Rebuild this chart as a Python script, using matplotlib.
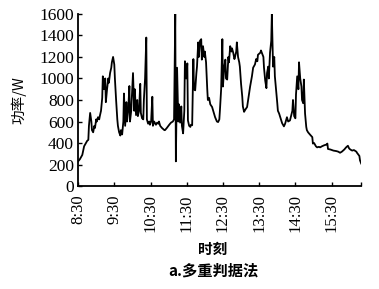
import matplotlib
matplotlib.use("Agg")
import matplotlib.pyplot as plt

# minutes after 8:30
minutes = [0, 3, 7, 10, 13, 15, 17, 18, 20, 22, 23, 25, 27, 28, 30, 31, 33, 35, 36, 38,
           40, 41, 43, 45, 46, 48, 50, 51, 53, 55, 56, 58, 60, 61, 63, 65, 66, 68, 70, 71,
           73, 75, 76, 78, 80, 81, 83, 85, 86, 88, 89, 91, 93, 94, 96, 98, 99, 101, 103, 104,
           106, 108, 109, 111, 113, 114, 116, 118, 119, 121, 123, 124, 126, 128, 129, 131, 133, 134, 136, 139,
           143, 144, 147, 151, 154, 157, 159, 161, 162, 164, 166, 167, 169, 171, 172, 174, 176, 177, 179, 181,
           182, 184, 186, 187, 189, 191, 192, 194, 196, 197, 199, 200, 202, 204, 205, 207, 209, 210, 212, 214,
           215, 217, 219, 222, 225, 227, 230, 232, 234, 235, 237, 239, 240, 242, 244, 245, 247, 249, 250, 252,
           254, 255, 257, 259, 260, 262, 263, 265, 267, 268, 270, 272, 273, 275, 277, 280, 283, 285, 288, 290,
           293, 295, 297, 298, 302, 303, 305, 307, 308, 310, 312, 313, 315, 316, 318, 320, 321, 323, 325, 326,
           328, 330, 331, 333, 335, 338, 341, 343, 346, 348, 351, 355, 356, 358, 360, 361, 363, 365, 366, 368,
           370, 371, 373, 374, 376, 378, 379, 381, 384, 388, 389, 391, 394, 396, 399, 401, 404, 408, 411, 413,
           414, 418, 423, 428, 431, 434, 437, 441, 444, 446, 447, 449, 451, 454, 457, 461, 462, 466, 467, 469]
power = [230, 250, 290, 370, 400, 420, 430, 560, 680, 600, 520, 500, 560, 540, 620, 600, 640, 620, 650, 700,
         820, 1020, 900, 1000, 780, 900, 1000, 960, 1050, 1100, 1150, 1200, 1130, 1000, 800, 620, 560, 500, 470, 520,
         480, 600, 860, 560, 780, 600, 700, 930, 600, 700, 820, 1050, 700, 900, 660, 800, 650, 700, 950, 680,
         630, 620, 800, 1000, 1380, 620, 580, 600, 570, 600, 830, 560, 600, 580, 570, 590, 580, 600, 560, 540,
         520, 520, 540, 570, 590, 600, 620, 1600, 230, 1100, 600, 760, 590, 740, 560, 490, 700, 1160, 1000, 1140,
         610, 560, 550, 570, 565, 1180, 900, 890, 1050, 1110, 1335, 1200, 1350, 1365, 1175, 1300, 1200, 1250, 1150, 900,
         800, 820, 760, 735, 680, 640, 600, 595, 620, 705, 900, 1365, 925, 1100, 1175, 1000, 990, 1200, 1150, 1300,
         1250, 1280, 1240, 1180, 1200, 1250, 1335, 1200, 1150, 1110, 950, 830, 740, 690, 710, 735, 850, 925, 1020, 1100,
         1130, 1180, 1160, 1220, 1240, 1260, 1230, 1200, 1100, 980, 910, 1050, 1110, 1000, 1240, 1350, 1600, 1110, 1200, 1020,
         900, 770, 700, 675, 640, 585, 555, 580, 640, 600, 610, 700, 800, 650, 630, 850, 1020, 900, 1150, 1000,
         925, 800, 770, 990, 675, 550, 520, 500, 480, 455, 395, 400, 370, 360, 365, 360, 370, 380, 385, 395,
         345, 340, 330, 325, 320, 310, 320, 340, 360, 370, 375, 350, 340, 330, 335, 320, 310, 280, 240, 210]

xtick_pos = [0, 60, 120, 180, 240, 300, 360, 420]
xtick_labels = ["8:30", "9:30", "10:30", "11:30", "12:30", "13:30", "14:30", "15:30"]
ytick_pos = [0, 200, 400, 600, 800, 1000, 1200, 1400, 1600]

plt.rcParams["font.family"] = ["Liberation Serif", "DejaVu Serif"]
cjk = ["Noto Sans CJK SC", "DejaVu Sans"]

fig = plt.figure(figsize=(3.79, 2.89), dpi=100)
ax = fig.add_axes([0.206, 0.356, 0.747, 0.596])
ax.plot(minutes, power, color="black", lw=1.3)
ax.set_xlim(0, 469)
ax.set_ylim(0, 1600)
for s in ("top", "right"):
    ax.spines[s].set_visible(False)
for s in ("left", "bottom"):
    ax.spines[s].set_linewidth(1.3)
ax.set_xticks(xtick_pos + [469])
ax.set_xticklabels(xtick_labels + [""], rotation=90, fontsize=12)
ax.set_yticks(ytick_pos)
ax.set_yticklabels([str(v) for v in ytick_pos], fontsize=12.5)
ax.tick_params(axis="both", direction="in", length=3, width=1)
ax.tick_params(axis="x", pad=6)
ax.tick_params(axis="y", pad=3)
ax.set_ylabel("功率/W", fontfamily=cjk, fontsize=10.5, labelpad=9)
fig.text(0.562, 0.14, "时刻", ha="center", va="center", fontfamily=cjk, fontsize=10.5, fontweight="bold")
fig.text(0.562, 0.065, "a.多重判据法", ha="center", va="center", fontfamily=cjk, fontsize=11, fontweight="bold")
fig.savefig("out.png", dpi=100)
